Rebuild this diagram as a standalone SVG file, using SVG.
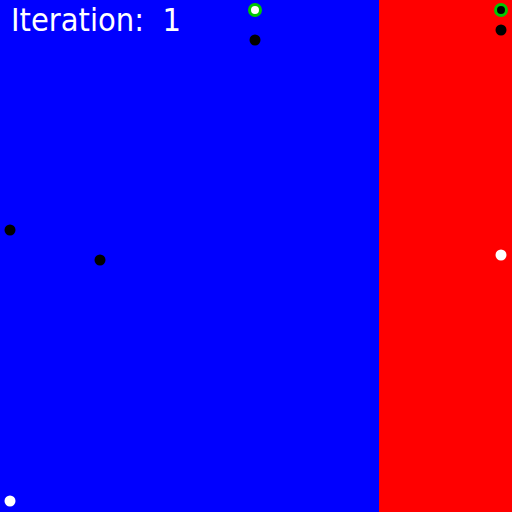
<svg xmlns="http://www.w3.org/2000/svg" width="512" height="512" viewBox="0 0 512 512">
<style>
.pt{stroke:none}
.blk{fill:#000}
.wht{fill:#fff}
.ring{stroke:#00c800;stroke-width:3}
.lbl{font-family:"DejaVu Sans",sans-serif;font-size:32px;fill:#fff}
</style>
<rect x="0" y="0" width="379" height="512" fill="#0000ff"/>
<rect x="379" y="0" width="133" height="512" fill="#ff0000"/>
<text class="lbl" x="11" y="31" textLength="170" lengthAdjust="spacingAndGlyphs" xml:space="preserve">Iteration:  1</text>
<g id="p1"><circle class="wht ring" cx="255" cy="10" r="5.5"/></g>
<g id="p2"><circle class="pt blk" cx="255" cy="40" r="5.5"/></g>
<g id="p3"><circle class="blk ring" cx="501" cy="10" r="5.5"/></g>
<g id="p4"><circle class="pt blk" cx="501" cy="30" r="5.5"/></g>
<g id="p5"><circle class="pt blk" cx="10" cy="230" r="5.5"/></g>
<g id="p6"><circle class="pt blk" cx="100" cy="260" r="5.5"/></g>
<g id="p7"><circle class="pt wht" cx="501" cy="255" r="5.5"/></g>
<g id="p8"><circle class="pt wht" cx="10" cy="501" r="5.5"/></g>
</svg>
